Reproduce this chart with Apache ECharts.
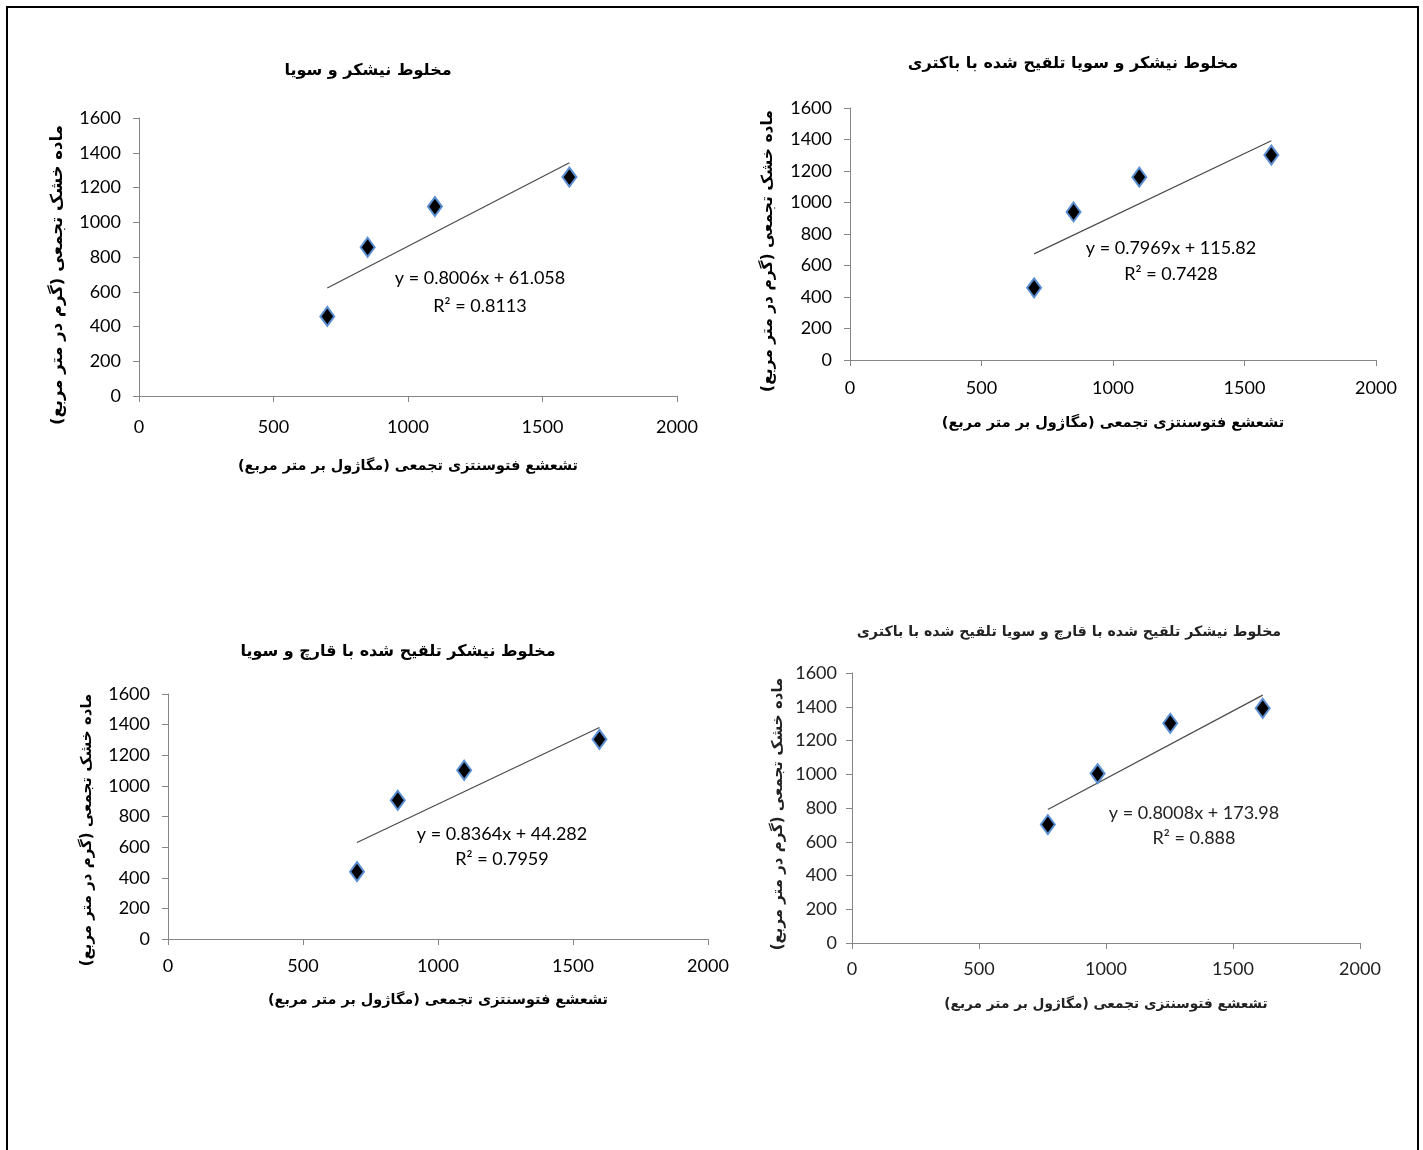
<!DOCTYPE html>
<html><head><meta charset="utf-8">
<script src="https://cdn.jsdelivr.net/npm/echarts@6/dist/echarts.min.js"></script>
<style>html,body{margin:0;padding:0;background:#fff}#c{width:1423px;height:1150px}</style>
</head><body><div id="c"></div>
<script>
// ---- data ----
const titles = [
  'مخلوط نیشکر و سویا',
  'مخلوط نیشکر و سویا تلقیح شده با باکتری',
  'مخلوط نیشکر تلقیح شده با قارچ و سویا',
  'مخلوط نیشکر تلقیح شده با قارچ و سویا تلقیح شده با باکتری'
];
const xTitle = 'تشعشع فتوسنتزی تجمعی (مگاژول بر متر مربع)';
const yTitle = 'ماده خشک تجمعی (گرم در متر مربع)';
const x1 = [700, 850, 1100, 1600];
const y1 = [458, 856, 1090, 1260];
const x2 = [700, 850, 1100, 1602];
const y2 = [458, 940, 1161, 1301];
const x3 = [700, 851, 1097, 1598];
const y3 = [440, 906, 1102, 1304];
const x4 = [771, 967, 1253, 1617];
const y4 = [702, 1004, 1302, 1391];
const slopes = [0.8006, 0.7969, 0.8364, 0.8008];
const intercepts = [61.058, 115.82, 44.282, 173.98];
const eqTexts = ['y = 0.8006x + 61.058', 'y = 0.7969x + 115.82', 'y = 0.8364x + 44.282', 'y = 0.8008x + 173.98'];
const r2Texts = ['R² = 0.8113', 'R² = 0.7428', 'R² = 0.7959', 'R² = 0.888'];
const xTicks = [0, 500, 1000, 1500, 2000];
const yTicks = [0, 200, 400, 600, 800, 1000, 1200, 1400, 1600];

// ---- layout ----
const RLM = '\u200F';
const grids = [
  {left: 139, top: 118, width: 538, height: 278},
  {left: 850, top: 108, width: 526, height: 252},
  {left: 168, top: 694, width: 540, height: 245},
  {left: 852, top: 673, width: 508, height: 270}
];
const titlePos = [[363, 58], [1068, 51], [393, 639], [1064, 620]];
const titleSize = [16, 16, 16, 14.2];
const xTitlePos = [[408, 466], [1113, 423], [438, 1000], [1106, 1004]];
const xTitleSize = [14.4, 14.5, 14.4, 13.7];
const yTitlePos = [[58, 275], [768, 251], [87, 830], [778, 814]];
const yTitleSize = [16.5, 15.5, 15, 15];
const eqPos = [[480, 278, 306], [1171, 248, 274], [502, 834, 859], [1194, 813, 838]];
const labelMarginY = [18, 18, 18, 15];
const labelMarginX = [22, 19, 18, 17];
const xs = [x1, x2, x3, x4], ys = [y1, y2, y3, y4];
const txtColor = ['#000', '#000', '#000', '#222'];
const numFont = 'Lato, "Open Sans", sans-serif';
const arFont = '"DejaVu Sans", sans-serif';

const option = {
  animation: false,
  backgroundColor: '#fff',
  title: titles.map((t, i) => ({
    text: t + RLM, left: titlePos[i][0], top: titlePos[i][1], textAlign: 'center',
    textStyle: {fontFamily: arFont, fontWeight: 'bold', fontSize: titleSize[i], color: txtColor[i]}
  })),
  grid: grids.map(g => Object.assign({containLabel: false}, g)),
  xAxis: grids.map((g, i) => ({
    type: 'value', gridIndex: i, min: xTicks[0], max: xTicks[xTicks.length - 1], interval: 500,
    axisLine: {show: true, lineStyle: {color: '#868686', width: 1}},
    axisTick: {show: true, inside: false, length: 6, lineStyle: {color: '#868686'}},
    splitLine: {show: false},
    axisLabel: {formatter: v => String(v), fontFamily: numFont, fontSize: 18, color: txtColor[i], margin: labelMarginX[i]}
  })),
  yAxis: grids.map((g, i) => ({
    type: 'value', gridIndex: i, min: yTicks[0], max: yTicks[yTicks.length - 1], interval: 200,
    axisLine: {show: true, lineStyle: {color: '#868686', width: 1}},
    axisTick: {show: true, inside: false, length: 6, lineStyle: {color: '#868686'}},
    splitLine: {show: false},
    axisLabel: {formatter: v => String(v), fontFamily: numFont, fontSize: 18, color: txtColor[i], margin: labelMarginY[i]}
  })),
  series: [],
  graphic: []
};

for (let i = 0; i < 4; i++) {
  const xmin = Math.min(...xs[i]), xmax = Math.max(...xs[i]);
  option.series.push({
    type: 'line', xAxisIndex: i, yAxisIndex: i, symbol: 'none', silent: true,
    lineStyle: {color: '#4a4a4a', width: 1.2},
    data: [[xmin, slopes[i] * xmin + intercepts[i]], [xmax, slopes[i] * xmax + intercepts[i]]],
    z: 2
  });
  option.series.push({
    type: 'scatter', xAxisIndex: i, yAxisIndex: i, symbol: 'diamond', symbolSize: [14, 19],
    itemStyle: {color: '#000', borderColor: '#5b8fd3', borderWidth: 2, opacity: 1},
    data: xs[i].map((x, k) => [x, ys[i][k]]),
    z: 3
  });
  option.graphic.push({
    type: 'text', x: xTitlePos[i][0], y: xTitlePos[i][1],
    style: {text: xTitle + RLM, font: 'bold ' + xTitleSize[i] + 'px ' + arFont, fill: txtColor[i], textAlign: 'center', textVerticalAlign: 'middle'}
  });
  option.graphic.push({
    type: 'text', x: yTitlePos[i][0], y: yTitlePos[i][1], rotation: Math.PI / 2,
    style: {text: yTitle + RLM, font: 'bold ' + yTitleSize[i] + 'px ' + arFont, fill: txtColor[i], textAlign: 'center', textVerticalAlign: 'middle'}
  });
  option.graphic.push({
    type: 'text', x: eqPos[i][0], y: eqPos[i][1],
    style: {text: eqTexts[i], font: '18px ' + numFont, fill: txtColor[i], textAlign: 'center', textVerticalAlign: 'middle'}
  });
  option.graphic.push({
    type: 'text', x: eqPos[i][0], y: eqPos[i][2],
    style: {text: r2Texts[i], font: '18px ' + numFont, fill: txtColor[i], textAlign: 'center', textVerticalAlign: 'middle'}
  });
}
// outer frame (open at bottom)
option.graphic.push({
  type: 'polyline', silent: true,
  shape: {points: [[7, 1150], [7, 7], [1418, 7], [1418, 1150]]},
  style: {stroke: '#000', lineWidth: 2, fill: null}
});

const chart = echarts.init(document.getElementById('c'));
chart.setOption(option);
</script>
</body></html>
